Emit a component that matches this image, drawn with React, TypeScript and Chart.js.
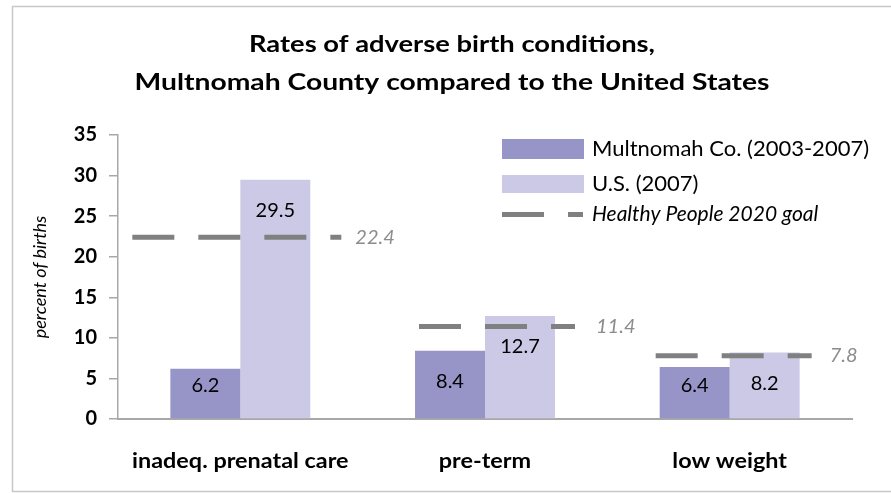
import React, { useEffect, useRef } from "react";
import { Chart, registerables } from "chart.js";

Chart.register(...registerables);

// ---- data ----
const categories = ["inadeq. prenatal care", "pre-term", "low weight"];
const multnomahValues = [6.2, 8.4, 6.4];
const usValues = [29.5, 12.7, 8.2];
const goalValues = [22.4, 11.4, 7.8];
const seriesNames = ["Multnomah Co. (2003-2007)", "U.S. (2007)", "Healthy People 2020 goal"];
const titleLines = ["Rates of adverse birth conditions,", "Multnomah County compared to the United States"];
const yAxisTitle = "percent of births";
const yMin = 0;
const yMax = 35;
const yStep = 5;

// ---- style ----
const FONT = "Lato, 'Noto Sans', sans-serif";
const C_MULT = "#9794C7";
const C_US = "#CBC9E5";
const C_GOAL = "#808080";
const C_GOAL_TEXT = "#8C8C8C";
const C_AXIS = "#A8A8A8";
const C_BORDER = "#C8C8C8";
const GOAL_SPAN = [[-108, 101], [-66, 90], [-74, 82]];
const GOAL_LABEL_GAP = [14, 21, 18];
const TITLE_WIDTHS = [406, 635];

function stretchText(ctx: any, text: string, x: number, y: number, sx: number) {
  ctx.save();
  ctx.translate(x, y);
  ctx.scale(sx, 1);
  ctx.fillText(text, 0, 0);
  ctx.restore();
}

const framePlugin = {
  id: "frame",
  beforeDraw(chart: any) {
    const ctx = chart.ctx;
    ctx.save();
    ctx.fillStyle = "#ffffff";
    ctx.fillRect(0, 0, chart.width, chart.height);
    ctx.strokeStyle = C_BORDER;
    ctx.lineWidth = 1.5;
    ctx.strokeRect(12.5, 6.5, 900, 485);
    ctx.restore();
  },
  afterDraw(chart: any) {
    const ctx = chart.ctx;
    ctx.save();
    ctx.fillStyle = "#000";
    ctx.font = `bold 23px ${FONT}`;
    ctx.textAlign = "center";
    ctx.textBaseline = "alphabetic";
    [0, 1].forEach((k) => {
      const w = ctx.measureText(titleLines[k]).width;
      stretchText(ctx, titleLines[k], 452, k === 0 ? 52 : 90, TITLE_WIDTHS[k] / w);
    });

    // category labels
    const xs = chart.scales.x;
    ctx.font = `bold 20px ${FONT}`;
    ctx.textBaseline = "middle";
    categories.forEach((c, i) => {
      stretchText(ctx, c, xs.getPixelForValue(i), chart.chartArea.bottom + 43, 1.17);
    });

    // legend
    const bx = 502, bw = 82, tx = 592;
    ctx.fillStyle = C_MULT;
    ctx.fillRect(bx, 139, bw, 20);
    ctx.fillStyle = C_US;
    ctx.fillRect(bx, 175, bw, 18);
    ctx.strokeStyle = C_GOAL;
    ctx.lineWidth = 5;
    ctx.setLineDash([42, 24]);
    ctx.beginPath();
    ctx.moveTo(bx, 214.5);
    ctx.lineTo(bx + 81, 214.5);
    ctx.stroke();
    ctx.setLineDash([]);
    ctx.fillStyle = "#000";
    ctx.textAlign = "left";
    ctx.textBaseline = "middle";
    ctx.font = `22px ${FONT}`;
    ctx.fillText(seriesNames[0], tx, 149);
    ctx.fillText(seriesNames[1], tx, 184);
    ctx.font = `italic 21px ${FONT}`;
    ctx.fillText(seriesNames[2], tx, 214);
    ctx.restore();
  },
};

const goalPlugin = {
  id: "goals",
  afterDatasetsDraw(chart: any) {
    const ctx = chart.ctx;
    const xs = chart.scales.x;
    const ys = chart.scales.y;
    ctx.save();
    goalValues.forEach((g, i) => {
      const cx = xs.getPixelForValue(i);
      const py = ys.getPixelForValue(g);
      ctx.strokeStyle = C_GOAL;
      ctx.lineWidth = 5;
      ctx.lineCap = "butt";
      ctx.setLineDash([42, 24]);
      ctx.beginPath();
      ctx.moveTo(cx + GOAL_SPAN[i][0], py);
      ctx.lineTo(cx + GOAL_SPAN[i][1], py);
      ctx.stroke();
      ctx.setLineDash([]);
      ctx.fillStyle = C_GOAL_TEXT;
      ctx.font = `italic 20px ${FONT}`;
      ctx.textAlign = "left";
      ctx.textBaseline = "middle";
      ctx.fillText(g.toFixed(1), cx + GOAL_SPAN[i][1] + GOAL_LABEL_GAP[i], py);
    });
    // value labels
    ctx.fillStyle = "#000";
    ctx.font = `20px ${FONT}`;
    ctx.textAlign = "center";
    ctx.textBaseline = "middle";
    chart.data.datasets.forEach((ds: any, di: number) => {
      const meta = chart.getDatasetMeta(di);
      meta.data.forEach((bar: any, i: number) => {
        const v = ds.data[i];
        const y = Math.min(bar.y + 31, bar.base - 33);
        ctx.fillText(v.toFixed(1), bar.x, y);
      });
    });
    ctx.restore();
  },
};

export default function App() {
  const ref = useRef<HTMLCanvasElement | null>(null);
  useEffect(() => {
    if (!ref.current) return;
    const chart = new Chart(ref.current, {
      type: "bar",
      data: {
        labels: categories,
        datasets: [
          { label: seriesNames[0], data: multnomahValues, backgroundColor: C_MULT, borderWidth: 0 },
          { label: seriesNames[1], data: usValues, backgroundColor: C_US, borderWidth: 0 },
        ],
      },
      options: {
        animation: false,
        responsive: false,
        maintainAspectRatio: false,
        layout: { padding: { left: 12, right: 39, top: 135, bottom: 14 } },
        plugins: {
          legend: { display: false },
          title: { display: false },
          tooltip: { enabled: false },
        },
        datasets: { bar: { barPercentage: 1, categoryPercentage: 0.572 } },
        scales: {
          x: {
            offset: true,
            grid: { display: true, drawOnChartArea: false, drawTicks: false },
            border: { color: C_AXIS, width: 2 },
            ticks: { display: false },
            afterFit: (s: any) => { s.height = 60; },
          },
          y: {
            min: yMin,
            max: yMax,
            grid: { drawOnChartArea: false, drawTicks: true, tickLength: 9, color: C_AXIS, lineWidth: 1.5 },
            border: { color: C_AXIS, width: 1.5 },
            ticks: { stepSize: yStep, color: "#000", font: { family: FONT, size: 20, weight: "bold" }, padding: 12 },
            title: {
              display: true,
              text: yAxisTitle,
              color: "#000",
              font: { family: FONT, size: 18, style: "italic" },
              padding: { top: 17, bottom: 0 },
            },
            afterFit: (s: any) => { s.width = 106; },
          },
        },
      },
      plugins: [framePlugin, goalPlugin],
    });
    return () => chart.destroy();
  }, []);
  return (
    <div style={{ position: "absolute", left: 0, top: 0, width: 891, height: 493 }}>
      <canvas ref={ref} width={891} height={493} style={{ display: "block" }} />
    </div>
  );
}
